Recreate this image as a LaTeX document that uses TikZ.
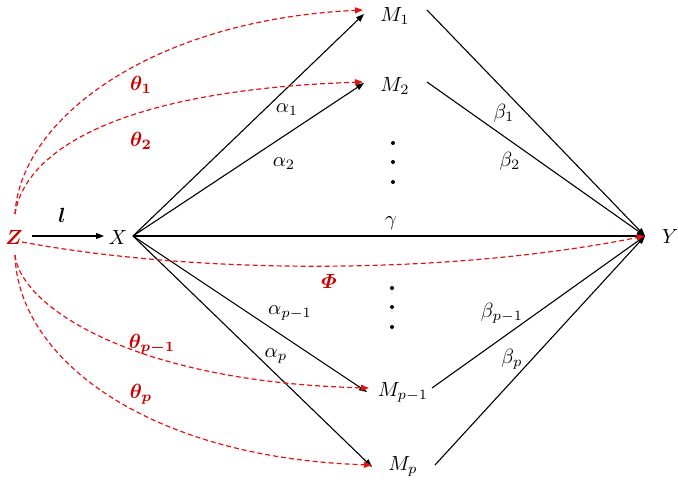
\RequirePackage{fix-cm}
\documentclass[tikz,border=0pt]{standalone}
\usepackage{amsmath,bm}
\usetikzlibrary{arrows.meta}
\definecolor{dred}{RGB}{200,0,0}
\definecolor{lred}{RGB}{225,20,20}
\begin{document}
\begin{tikzpicture}[x=1pt,y=-1pt,
 lbl/.style={inner sep=1pt,scale=2.05},
 rlbl/.style={lbl,text=dred},
 edge/.style={line width=1.1pt,-{Triangle[length=8pt,width=6pt]}},
 conf/.style={lred,line width=1.2pt,dash pattern=on 5pt off 3pt,-{Triangle[length=8pt,width=6pt]}},
 dotm/.style={circle,fill,inner sep=0pt,minimum size=4pt}]
\useasboundingbox (0,0) rectangle (678,483);
% main nodes
\node[rlbl] (Z) at (14,237) {$\bm{Z}$};
\node[lbl] (X) at (118,237) {$X$};
\node[lbl] (Y) at (670,236) {$Y$};
\node[lbl] (M1) at (395,16) {$M_1$};
\node[lbl] (M2) at (395,86) {$M_2$};
\node[lbl] (Mq) at (403,392) {$M_{p-1}$};
\node[lbl] (Mp) at (403,466) {$M_p$};
% anchor points
\coordinate (zs) at (32,236);
\coordinate (xe) at (104,236);
\coordinate (xo) at (133,236);
\coordinate (yi) at (645,236);
\coordinate (m1b) at (364,14);
\coordinate (m2b) at (364,83);
\coordinate (mqb) at (367,392);
\coordinate (mpb) at (372,467);
\coordinate (m1i) at (363,10);
\coordinate (m2i) at (363,82);
\coordinate (mqi) at (369,388);
\coordinate (mpi) at (372,465);
\coordinate (m1o) at (427,10);
\coordinate (m2o) at (427,82);
\coordinate (mqo) at (432,388);
\coordinate (mpo) at (435,465);
\coordinate (zt) at (15,214);
\coordinate (zr) at (22,242);
\coordinate (zb) at (15,255);
% dots
\node[dotm] (d1) at (393,143) {};
\node[dotm] (d2) at (393,162) {};
\node[dotm] (d3) at (393,182) {};
\node[dotm] (d4) at (392,288) {};
\node[dotm] (d5) at (392,307) {};
\node[dotm] (d6) at (392,327) {};
% black edges
\draw[edge] (zs) -- (xe);
\draw[edge] (xo) -- (m1b);
\draw[edge] (xo) -- (m2b);
\draw[edge] (xo) -- (mqb);
\draw[edge] (xo) -- (mpb);
\draw[edge] (xo) -- (yi);
\draw[edge] (m1o) -- (yi);
\draw[edge] (m2o) -- (yi);
\draw[edge] (mqo) -- (yi);
\draw[edge] (mpo) -- (yi);
% red dashed edges
\draw[conf] (zt) .. controls (20,120) and (150,20) .. (m1i);
\draw[conf] (zt) .. controls (25,150) and (120,90) .. (m2i);
\draw[conf] (zr) .. controls (200,275) and (450,275) .. (yi);
\draw[conf] (zb) .. controls (20,305) and (130,382) .. (mqi);
\draw[conf] (zb) .. controls (18,360) and (150,458) .. (mpi);
% labels
\node[lbl] (l) at (62,215) {$\bm{l}$};
\node[lbl] (a1) at (287,110) {$\alpha_1$};
\node[lbl] (a2) at (284,164) {$\alpha_2$};
\node[lbl] (aq) at (290,313) {$\alpha_{p-1}$};
\node[lbl] (ap) at (276,356) {$\alpha_p$};
\node[lbl] (b1) at (504,113) {$\beta_1$};
\node[lbl] (b2) at (510,161) {$\beta_2$};
\node[lbl] (bq) at (502,313) {$\beta_{p-1}$};
\node[lbl] (bp) at (512,359) {$\beta_p$};
\node[lbl] (g) at (391,223) {$\gamma$};
\node[rlbl] (t1) at (141,85) {$\bm{\theta_1}$};
\node[rlbl] (t2) at (141,141) {$\bm{\theta_2}$};
\node[rlbl] (tq) at (152,344) {$\bm{\theta_{p-1}}$};
\node[rlbl] (tp) at (141,394) {$\bm{\theta_p}$};
\node[rlbl] (ph) at (329,281) {$\bm{\varPhi}$};
\end{tikzpicture}
\end{document}
